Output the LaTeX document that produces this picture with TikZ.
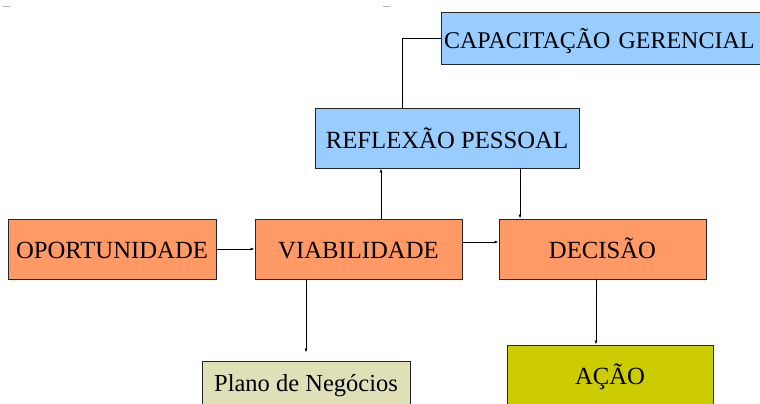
\documentclass[tikz,border=0pt]{standalone}
\usepackage{fontspec}
\setmainfont{Liberation Serif}
\newfontfamily\tms{Liberation Serif}
\usetikzlibrary{arrows.meta}
\definecolor{orangebox}{HTML}{FF9966}
\definecolor{bluebox}{HTML}{99CCFF}
\definecolor{planobox}{HTML}{E0E0B8}
\definecolor{acaobox}{HTML}{CCCC00}
\tikzset{
  box/.style={draw=black!85, line width=0.9pt, inner sep=0pt, text height=19pt, text depth=0pt, font=\tms\fontsize{24.7}{28}\selectfont},
  obox/.style={box, fill=orangebox, minimum width=208pt, minimum height=60pt},
  arr/.style={line width=0.8pt, -{Latex[length=4pt,width=3pt]}},
  lin/.style={line width=0.8pt},
}
\begin{document}
\begin{tikzpicture}[x=1pt,y=-1pt]
\useasboundingbox (0,0) rectangle (760,404);
\fill[white] (0,0) rectangle (760,404);
\clip (0,0) rectangle (760,404);
\draw[gray!60, line width=1pt] (3,7) -- (10,7);
\draw[gray!60, line width=1pt] (383,7) -- (390,7);
\node[box, fill=bluebox, minimum width=340pt, minimum height=52pt, text width=334pt, align=left, text height=21pt, font=\tms\fontsize{24}{28}\selectfont] (cap) at (611,38) {CAPACITA\c{C}\~AO GERENCIAL};
\node[box, fill=bluebox, minimum width=264pt, minimum height=60pt, text height=20.4pt] (refl) at (447,138) {REFLEX\~AO PESSOAL};
\node[obox] (opor) at (112,249) {OPORTUNIDADE};
\node[obox, minimum width=207pt] (viab) at (358.5,249) {VIABILIDADE};
\node[obox, minimum width=207pt] (dec) at (602.5,249) {DECIS\~AO};
\node[box, fill=planobox, minimum width=208pt, minimum height=44pt, text height=17pt, font=\tms\fontsize{24.5}{28}\selectfont] (plano) at (306,383) {Plano de Neg\'ocios};
\node[box, fill=acaobox, minimum width=206pt, minimum height=62pt, text height=17pt] (acao) at (610,376) {A\c{C}\~AO};
\draw[lin] (cap.west) -| ([xshift=-45pt]refl.north);
\draw[arr] (opor.east) -- (viab.west);
\draw[arr] ([yshift=7pt]viab.east) -- ([yshift=7pt]viab.east -| dec.west);
\draw[arr] ([xshift=22.5pt]viab.north) -- ([xshift=22.5pt]viab.north |- refl.south);
\draw[arr] ([xshift=73pt]refl.south) -- ([xshift=73pt]refl.south |- dec.north);
\draw[arr, shorten >=8pt] ([xshift=-52.5pt]viab.south) -- ([xshift=-52.5pt]viab.south |- plano.north);
\draw[arr] ([xshift=-6.5pt]dec.south) -- ([xshift=-6.5pt]dec.south |- acao.north);
\end{tikzpicture}
\end{document}
